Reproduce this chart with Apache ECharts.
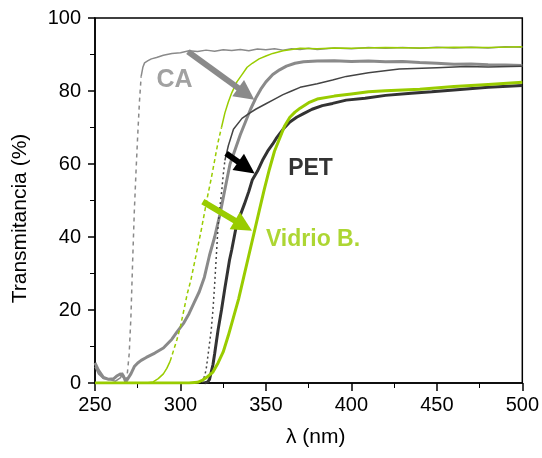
<!DOCTYPE html>
<html>
<head>
<meta charset="utf-8">
<script src="https://cdn.jsdelivr.net/npm/echarts@6/dist/echarts.min.js"></script>
<style>
html,body{margin:0;padding:0;background:#fff;}
#chart{width:542px;height:458px;}
</style>
</head>
<body>
<div id="chart"></div>
<script>
// ---- Data ----
const xTicks = [250, 300, 350, 400, 450, 500];
const yTicks = [0, 20, 40, 60, 80, 100];

// CA film, thin gray line
const caThinLowX = [250, 252, 255, 258, 262, 265, 266, 267, 268];
const caThinLowY = [4.5, 2.5, 1.2, 1.0, 0.5, 1.5, 2.8, 2.0, 0.5];
const caThinStepX = [268, 269, 270, 271, 272, 273, 274, 275, 276, 277];
const caThinStepY = [0.5, 3, 8, 18, 33, 47, 58, 68, 77, 84];
const caThinTopX = [277, 278, 279, 281, 283, 286, 290, 295, 300, 305, 310, 315, 320, 325, 330, 335, 340, 345, 350, 355, 360, 365, 370, 375, 380, 390, 400, 410, 420, 430, 440, 450, 460, 470, 480, 490, 500];
const caThinTopY = [84, 86.5, 87.7, 88.3, 88.8, 89.2, 89.8, 90.3, 90.5, 91.0, 90.8, 91.2, 90.9, 91.3, 91.1, 91.4, 91.0, 91.5, 91.3, 91.6, 91.2, 91.6, 91.4, 91.7, 91.4, 91.8, 91.6, 91.9, 91.7, 91.9, 91.7, 92.0, 91.8, 92.0, 91.8, 92.1, 92.0];

// CA film, thick gray line
const caThickX = [250, 252, 255, 258, 261, 263, 265, 266, 267, 268, 269, 271, 273, 275, 277, 280, 285, 290, 295, 298, 302, 305, 308, 311, 314, 317, 320, 323, 326, 329, 332, 335, 338, 341, 344, 347, 350, 354, 358, 362, 367, 372, 380, 390, 400, 410, 420, 430, 440, 450, 460, 470, 480, 490, 500];
const caThickY = [5.5, 3.5, 1.5, 1.0, 1.2, 2.0, 2.5, 3.0, 1.5, 0.3, 0.5, 2.5, 4.5, 5.5, 6.2, 7.0, 8.2, 9.6, 12, 14, 16.5, 19, 22, 25, 29, 35, 40, 46, 53, 60, 64, 68, 71.5, 75, 78, 80.5, 82.5, 84.5, 85.8, 86.8, 87.6, 88.0, 88.2, 88.3, 88.1, 88.2, 88.0, 88.1, 87.8, 87.6, 87.3, 87.4, 87.2, 87.1, 87.0];

// Vidrio B., thin green line
const glassThinLowX = [250, 280, 284, 287, 290, 292, 294];
const glassThinLowY = [0, 0, 0.3, 1.2, 2.5, 4, 6];
const glassThinStepX = [294, 296, 298, 300, 302, 304, 306, 308, 310, 312, 314, 316, 318, 320, 322, 324];
const glassThinStepY = [6, 9, 12, 15.5, 20, 24.5, 28, 32.5, 37, 41.5, 46.5, 51.5, 56, 61, 66, 70];
const glassThinTopX = [324, 326, 328, 330, 333, 336, 339, 342, 346, 350, 354, 360, 365, 370, 380, 390, 400, 420, 440, 460, 480, 500];
const glassThinTopY = [70, 74, 77, 79.5, 82.5, 84.5, 86.5, 87.6, 88.8, 89.6, 90.3, 91.0, 91.4, 91.7, 91.6, 91.8, 91.7, 91.9, 91.8, 92.0, 91.9, 92.1];

// PET, thin dark line
const petThinStepX = [313, 315, 316.5, 318, 319, 320, 321, 322, 323, 324, 325, 326];
const petThinStepY = [0, 3.6, 9, 14.5, 20, 27, 35, 43, 48, 52, 57, 61];
const petThinTopX = [326, 328, 331, 336, 340, 344, 350, 354, 360, 365, 370, 380, 389, 397, 410, 428, 450, 467, 480, 500];
const petThinTopY = [61, 65, 69.5, 72.5, 73.8, 75, 76.5, 77.5, 79, 80, 81, 82, 83, 84, 85, 86, 86.4, 86.7, 86.6, 86.8];

// PET, thick dark line
const petThickX = [314, 316, 317, 319, 320, 322, 324, 326, 328.7, 330, 332.6, 335, 337.4, 340, 342, 345, 348, 351, 354, 356, 360, 364, 368, 372, 377, 383, 389, 397, 408, 420, 435, 447, 460, 480, 500];
const petThickY = [0, 0.3, 1, 5, 8, 14.5, 20, 26, 33.7, 36.5, 42.8, 46, 49, 52.5, 55.6, 58, 61, 63.5, 65.5, 67, 69.5, 71.5, 72.8, 73.8, 75, 76, 76.6, 77.5, 78, 78.8, 79.4, 79.8, 80.3, 81, 81.5];

// Vidrio B., thick green line
const glassThickX = [250, 305, 310, 313, 316, 319, 322, 325, 328, 331, 334, 337, 340, 343, 346, 349, 352, 355, 358, 361, 364, 367, 370, 375, 380, 390, 400, 410, 420, 440, 460, 480, 500];
const glassThickY = [0, 0, 0.2, 0.8, 1.8, 3, 5.5, 8.5, 13, 18, 23, 29, 35, 41, 47, 53, 58.5, 63.5, 67, 70.5, 72.8, 74.2, 75.3, 76.8, 77.8, 78.6, 79.2, 79.8, 80.1, 80.5, 81.2, 81.8, 82.4];

// Annotations (data coordinates)
const labelNames = ['CA', 'PET', 'Vidrio B.'];
const labelPos = [[286, 83], [363, 58.6], [350, 39.2]];
const arrowFrom = [[304.4, 90.8], [326.7, 62.9], [313.1, 49.7]];
const arrowTo = [[338.5, 79.2], [338.6, 59.0], [336.8, 43.1]];

// ---- Helpers ----
const zip = (xs, ys) => xs.map((x, i) => [x, ys[i]]);
const GRAY = '#8a8a8a', GREEN = '#99cc00', DARK = '#333333', DARK2 = '#444444';
const FONT = 'Liberation Sans, Arial, sans-serif';

function lineSeries(name, data, color, width, dashed) {
  return {
    name: name, type: 'line', data: data, showSymbol: false, symbol: 'none',
    smooth: false, animation: false, silent: true,
    lineStyle: { color: color, width: width, type: dashed ? dashed : 'solid' },
    z: 2
  };
}

const labelColors = [GRAY, '#000000', GREEN];
const arrowColors = [GRAY, '#000000', GREEN];

const series = [
  lineSeries('CA-a', zip(caThinLowX, caThinLowY), GRAY, 1.5),
  lineSeries('CA-a-step', zip(caThinStepX, caThinStepY), GRAY, 1.5, [4, 4]),
  lineSeries('CA-a-top', zip(caThinTopX, caThinTopY), GRAY, 1.5),
  lineSeries('CA-b', zip(caThickX, caThickY), GRAY, 3),
  lineSeries('Vidrio-a', zip(glassThinLowX, glassThinLowY), GREEN, 1.5),
  lineSeries('Vidrio-a-step', zip(glassThinStepX, glassThinStepY), GREEN, 1.5, [4, 3]),
  lineSeries('Vidrio-a-top', zip(glassThinTopX, glassThinTopY), GREEN, 1.5),
  lineSeries('PET-a-step', zip(petThinStepX, petThinStepY), DARK2, 1.5, [2, 3]),
  lineSeries('PET-a-top', zip(petThinTopX, petThinTopY), DARK2, 1.5),
  lineSeries('PET-b', zip(petThickX, petThickY), DARK, 3),
  lineSeries('Vidrio-b', zip(glassThickX, glassThickY), GREEN, 3),
  {
    name: 'arrows', type: 'line', data: [], silent: true, animation: false,
    markLine: {
      silent: true, animation: false,
      symbol: ['none', 'triangle'], symbolSize: [20, 20],
      label: { show: false },
      data: arrowFrom.map((p, i) => [
        { coord: p, lineStyle: { color: arrowColors[i], width: 6, type: 'solid' }, itemStyle: { color: arrowColors[i] } },
        { coord: arrowTo[i] }
      ])
    },
    z: 5
  },
  {
    name: 'labels', type: 'scatter', symbolSize: 0, silent: true, animation: false,
    data: labelPos.map((p, i) => ({
      value: p,
      label: {
        show: true, position: 'inside', align: 'left', verticalAlign: 'middle',
        formatter: labelNames[i], color: labelColors[i],
        fontFamily: FONT, fontWeight: 'bold',
        fontSize: [25, 23, 23][i]
      }
    })),
    z: 6
  }
];

const chart = echarts.init(document.getElementById('chart'), null, { renderer: 'canvas' });
chart.setOption({
  backgroundColor: '#ffffff',
  animation: false,
  grid: { left: 95, right: 18, top: 18, bottom: 75, show: true, borderColor: '#000', borderWidth: 1.5, backgroundColor: 'transparent' },
  xAxis: {
    type: 'value', min: xTicks[0], max: xTicks[xTicks.length - 1], interval: 50,
    name: 'λ (nm)', nameLocation: 'middle', nameGap: 44,
    nameTextStyle: { fontFamily: FONT, fontSize: 21, color: '#000', padding: [0, 0, 0, 14] },
    axisLine: { show: true, onZero: false, lineStyle: { color: '#000', width: 1.5 } },
    axisTick: { show: true, inside: false, length: 8, lineStyle: { color: '#000', width: 1.5 } },
    minorTick: { show: true, splitNumber: 2, length: 5, lineStyle: { color: '#000', width: 1 } },
    axisLabel: { fontFamily: FONT, fontSize: 20, color: '#000', margin: 12, formatter: v => xTicks.includes(v) ? String(v) : '' },
    splitLine: { show: false }
  },
  yAxis: {
    type: 'value', min: yTicks[0], max: yTicks[yTicks.length - 1], interval: 20,
    name: 'Transmitancia (%)', nameLocation: 'middle', nameGap: 64, nameRotate: 90,
    nameTextStyle: { fontFamily: FONT, fontSize: 21, color: '#000', padding: [0, 36, 0, 0] },
    axisLine: { show: true, onZero: false, lineStyle: { color: '#000', width: 1.5 } },
    axisTick: { show: true, inside: false, length: 7, lineStyle: { color: '#000', width: 1.5 } },
    minorTick: { show: true, splitNumber: 2, length: 5, lineStyle: { color: '#000', width: 1 } },
    axisLabel: { fontFamily: FONT, fontSize: 20, color: '#000', margin: 14, formatter: v => yTicks.includes(v) ? String(v) : '' },
    splitLine: { show: false }
  },
  series: series
});
</script>
</body>
</html>
